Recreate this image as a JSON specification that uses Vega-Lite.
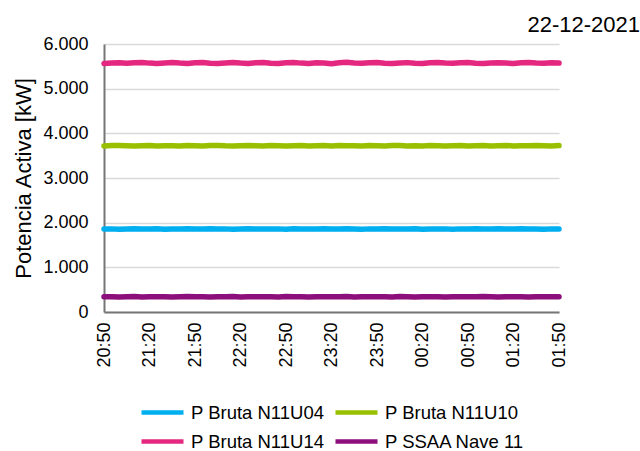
{
  "$schema": "https://vega.github.io/schema/vega-lite/v6.json",
  "width": 455,
  "height": 268,
  "autosize": {"type": "none"},
  "padding": {"left": 104, "top": 44, "right": 81, "bottom": 139},
  "background": "white",
  "title": {"text": "22-12-2021", "anchor": "end", "fontSize": 22, "fontWeight": "normal", "font": "Liberation Sans", "color": "#000000", "dx": 72, "offset": -2},
  "config": {
    "locale": {"number": {"decimal": ",", "thousands": ".", "grouping": [3], "currency": ["", " €"]}},
    "view": {"stroke": null},
    "font": "Liberation Sans"
  },
  "data": {
    "values": [
      {"t":"2021-12-22T20:50:00","u04":1858,"u10":3717,"u14":5562,"ssaa":340},
      {"t":"2021-12-22T20:55:00","u04":1861,"u10":3725,"u14":5575,"ssaa":343},
      {"t":"2021-12-22T21:00:00","u04":1855,"u10":3728,"u14":5582,"ssaa":336},
      {"t":"2021-12-22T21:05:00","u04":1860,"u10":3720,"u14":5568,"ssaa":341},
      {"t":"2021-12-22T21:10:00","u04":1863,"u10":3715,"u14":5578,"ssaa":345},
      {"t":"2021-12-22T21:15:00","u04":1857,"u10":3723,"u14":5588,"ssaa":338},
      {"t":"2021-12-22T21:20:00","u04":1859,"u10":3730,"u14":5572,"ssaa":342},
      {"t":"2021-12-22T21:25:00","u04":1862,"u10":3719,"u14":5564,"ssaa":340},
      {"t":"2021-12-22T21:30:00","u04":1854,"u10":3724,"u14":5577,"ssaa":344},
      {"t":"2021-12-22T21:35:00","u04":1860,"u10":3721,"u14":5584,"ssaa":337},
      {"t":"2021-12-22T21:40:00","u04":1858,"u10":3714,"u14":5573,"ssaa":341},
      {"t":"2021-12-22T21:45:00","u04":1862,"u10":3726,"u14":5566,"ssaa":345},
      {"t":"2021-12-22T21:50:00","u04":1856,"u10":3723,"u14":5580,"ssaa":339},
      {"t":"2021-12-22T21:55:00","u04":1859,"u10":3718,"u14":5588,"ssaa":342},
      {"t":"2021-12-22T22:00:00","u04":1864,"u10":3725,"u14":5570,"ssaa":338},
      {"t":"2021-12-22T22:05:00","u04":1857,"u10":3729,"u14":5562,"ssaa":343},
      {"t":"2021-12-22T22:10:00","u04":1861,"u10":3720,"u14":5576,"ssaa":340},
      {"t":"2021-12-22T22:15:00","u04":1855,"u10":3715,"u14":5584,"ssaa":346},
      {"t":"2021-12-22T22:20:00","u04":1858,"u10":3724,"u14":5572,"ssaa":337},
      {"t":"2021-12-22T22:25:00","u04":1863,"u10":3727,"u14":5566,"ssaa":342},
      {"t":"2021-12-22T22:30:00","u04":1856,"u10":3721,"u14":5579,"ssaa":340},
      {"t":"2021-12-22T22:35:00","u04":1860,"u10":3716,"u14":5586,"ssaa":344},
      {"t":"2021-12-22T22:40:00","u04":1859,"u10":3726,"u14":5570,"ssaa":341},
      {"t":"2021-12-22T22:45:00","u04":1861,"u10":3722,"u14":5563,"ssaa":338},
      {"t":"2021-12-22T22:50:00","u04":1855,"u10":3714,"u14":5578,"ssaa":345},
      {"t":"2021-12-22T22:55:00","u04":1862,"u10":3724,"u14":5586,"ssaa":340},
      {"t":"2021-12-22T23:00:00","u04":1858,"u10":3729,"u14":5572,"ssaa":342},
      {"t":"2021-12-22T23:05:00","u04":1860,"u10":3718,"u14":5565,"ssaa":337},
      {"t":"2021-12-22T23:10:00","u04":1857,"u10":3722,"u14":5581,"ssaa":344},
      {"t":"2021-12-22T23:15:00","u04":1863,"u10":3725,"u14":5574,"ssaa":340},
      {"t":"2021-12-22T23:20:00","u04":1859,"u10":3716,"u14":5560,"ssaa":343},
      {"t":"2021-12-22T23:25:00","u04":1856,"u10":3727,"u14":5582,"ssaa":339},
      {"t":"2021-12-22T23:30:00","u04":1862,"u10":3720,"u14":5589,"ssaa":345},
      {"t":"2021-12-22T23:35:00","u04":1858,"u10":3724,"u14":5574,"ssaa":338},
      {"t":"2021-12-22T23:40:00","u04":1855,"u10":3717,"u14":5568,"ssaa":341},
      {"t":"2021-12-22T23:45:00","u04":1861,"u10":3730,"u14":5578,"ssaa":343},
      {"t":"2021-12-22T23:50:00","u04":1857,"u10":3721,"u14":5584,"ssaa":340},
      {"t":"2021-12-22T23:55:00","u04":1863,"u10":3715,"u14":5570,"ssaa":342},
      {"t":"2021-12-23T00:00:00","u04":1859,"u10":3725,"u14":5564,"ssaa":336},
      {"t":"2021-12-23T00:05:00","u04":1856,"u10":3728,"u14":5576,"ssaa":345},
      {"t":"2021-12-23T00:10:00","u04":1860,"u10":3719,"u14":5583,"ssaa":341},
      {"t":"2021-12-23T00:15:00","u04":1862,"u10":3723,"u14":5571,"ssaa":338},
      {"t":"2021-12-23T00:20:00","u04":1855,"u10":3717,"u14":5566,"ssaa":344},
      {"t":"2021-12-23T00:25:00","u04":1859,"u10":3726,"u14":5580,"ssaa":340},
      {"t":"2021-12-23T00:30:00","u04":1858,"u10":3723,"u14":5586,"ssaa":342},
      {"t":"2021-12-23T00:35:00","u04":1861,"u10":3715,"u14":5573,"ssaa":337},
      {"t":"2021-12-23T00:40:00","u04":1854,"u10":3721,"u14":5567,"ssaa":344},
      {"t":"2021-12-23T00:45:00","u04":1861,"u10":3728,"u14":5578,"ssaa":340},
      {"t":"2021-12-23T00:50:00","u04":1858,"u10":3719,"u14":5584,"ssaa":343},
      {"t":"2021-12-23T00:55:00","u04":1862,"u10":3724,"u14":5569,"ssaa":339},
      {"t":"2021-12-23T01:00:00","u04":1857,"u10":3726,"u14":5562,"ssaa":346},
      {"t":"2021-12-23T01:05:00","u04":1860,"u10":3718,"u14":5576,"ssaa":341},
      {"t":"2021-12-23T01:10:00","u04":1863,"u10":3722,"u14":5582,"ssaa":338},
      {"t":"2021-12-23T01:15:00","u04":1856,"u10":3729,"u14":5572,"ssaa":343},
      {"t":"2021-12-23T01:20:00","u04":1859,"u10":3716,"u14":5565,"ssaa":340},
      {"t":"2021-12-23T01:25:00","u04":1862,"u10":3724,"u14":5578,"ssaa":342},
      {"t":"2021-12-23T01:30:00","u04":1857,"u10":3720,"u14":5585,"ssaa":338},
      {"t":"2021-12-23T01:35:00","u04":1860,"u10":3727,"u14":5574,"ssaa":344},
      {"t":"2021-12-23T01:40:00","u04":1855,"u10":3723,"u14":5568,"ssaa":341},
      {"t":"2021-12-23T01:45:00","u04":1861,"u10":3718,"u14":5580,"ssaa":340},
      {"t":"2021-12-23T01:50:00","u04":1858,"u10":3725,"u14":5574,"ssaa":342}
    ]
  },
  "transform": [
    {"fold": ["u04", "u10", "u14", "ssaa"], "as": ["serie", "kw"]}
  ],
  "mark": {"type": "line", "strokeWidth": 5.5, "strokeJoin": "round", "strokeCap": "round"},
  "encoding": {
    "x": {
      "field": "t", "type": "temporal",
      "scale": {"domain": [{"year": 2021, "month": 12, "date": 22, "hours": 20, "minutes": 50}, {"year": 2021, "month": 12, "date": 23, "hours": 1, "minutes": 50}], "nice": false},
      "axis": {
        "title": null,
        "format": "%H:%M",
        "values": [
          {"year": 2021, "month": 12, "date": 22, "hours": 20, "minutes": 50},
          {"year": 2021, "month": 12, "date": 22, "hours": 21, "minutes": 20},
          {"year": 2021, "month": 12, "date": 22, "hours": 21, "minutes": 50},
          {"year": 2021, "month": 12, "date": 22, "hours": 22, "minutes": 20},
          {"year": 2021, "month": 12, "date": 22, "hours": 22, "minutes": 50},
          {"year": 2021, "month": 12, "date": 22, "hours": 23, "minutes": 20},
          {"year": 2021, "month": 12, "date": 22, "hours": 23, "minutes": 50},
          {"year": 2021, "month": 12, "date": 23, "hours": 0, "minutes": 20},
          {"year": 2021, "month": 12, "date": 23, "hours": 0, "minutes": 50},
          {"year": 2021, "month": 12, "date": 23, "hours": 1, "minutes": 20},
          {"year": 2021, "month": 12, "date": 23, "hours": 1, "minutes": 50}
        ],
        "labelAngle": -90,
        "labelFontSize": 18,
        "labelColor": "#000000",
        "labelPadding": 10,
        "labelFlush": false,
        "labelOverlap": false,
        "ticks": false,
        "grid": false,
        "domainColor": "#767676",
        "domainWidth": 2
      }
    },
    "y": {
      "field": "kw", "type": "quantitative",
      "scale": {"domain": [0, 6000], "nice": false},
      "axis": {
        "title": "Potencia Activa [kW]",
        "titleFontSize": 22,
        "titleFontWeight": "normal",
        "titleColor": "#000000",
        "titlePadding": 7,
        "values": [0, 1000, 2000, 3000, 4000, 5000, 6000],
        "format": ",.0f",
        "labelFontSize": 18,
        "labelColor": "#000000",
        "labelPadding": 16,
        "ticks": false,
        "gridColor": "#d9d9d9",
        "gridWidth": 1.5,
        "domainColor": "#767676",
        "domainWidth": 2
      }
    },
    "color": {
      "field": "serie", "type": "nominal",
      "scale": {
        "domain": ["u04", "u10", "u14", "ssaa"],
        "range": ["#00AFEF", "#99C000", "#E5287F", "#8C0F7B"]
      },
      "legend": {
        "title": null,
        "orient": "none",
        "legendX": 35,
        "legendY": 351,
        "padding": 0,
        "direction": "horizontal",
        "columns": 2,
        "labelExpr": "datum.label == 'u04' ? 'P Bruta N11U04' : datum.label == 'u10' ? 'P Bruta N11U10' : datum.label == 'u14' ? 'P Bruta N11U14' : 'P SSAA Nave 11'",
        "symbolType": "M-1,0H1.8",
        "symbolSize": 900,
        "symbolStrokeWidth": 4.5,
        "labelFontSize": 18.5,
        "labelColor": "#000000",
        "labelOffset": 17,
        "rowPadding": 2,
        "columnPadding": 1
      }
    }
  }
}
